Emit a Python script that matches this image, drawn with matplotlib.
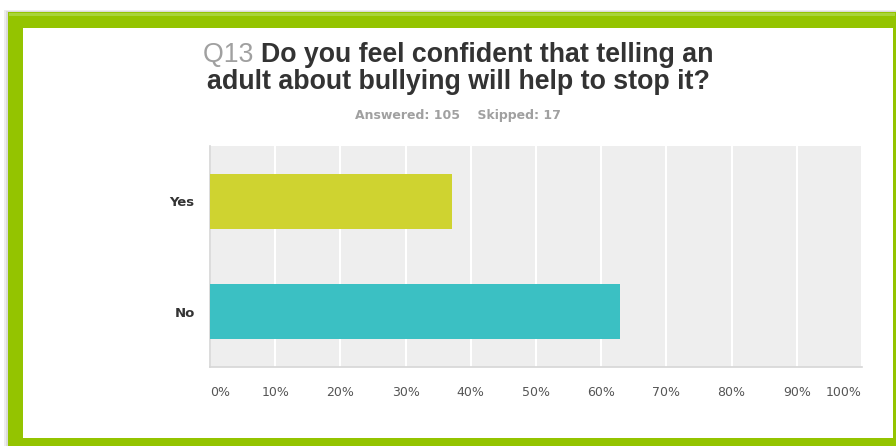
import matplotlib
matplotlib.use("Agg")
import matplotlib.pyplot as plt
from matplotlib.patches import Rectangle

plt.rcParams['font.family'] = ['Liberation Sans', 'DejaVu Sans']

categories = ["Yes", "No"]
percentages = [37.14, 62.86]
bar_colors = ["#CFD330", "#3BC0C3"]
tick_values = [0, 10, 20, 30, 40, 50, 60, 70, 80, 90, 100]
tick_labels = ["0%", "10%", "20%", "30%", "40%", "50%", "60%", "70%", "80%", "90%", "100%"]
question_number = "Q13"
question_lines = ["Do you feel confident that telling an",
                  "adult about bullying will help to stop it?"]
stats_text = "Answered: 105    Skipped: 17"

W, H = 896, 446
fig = plt.figure(figsize=(W / 100, H / 100), dpi=100)
fig.patch.set_facecolor("white")


def px(x, y, w, h):
    return (x / W, 1 - (y + h) / H, w / W, h / H)


def rect(x, y, w, h, color, z=0, alpha=1.0):
    l, b, ww, hh = px(x, y, w, h)
    fig.patches.append(Rectangle((l, b), ww, hh, transform=fig.transFigure,
                                 facecolor=color, edgecolor="none", zorder=z, alpha=alpha))


# soft shadow and green frame
rect(4, 10, 892, 436, "#CCCCCC", z=0, alpha=0.35)
rect(6, 11, 890, 435, "#BBBBBB", z=0, alpha=0.35)
rect(8, 12, 888, 434, "#94C400", z=1)
rect(9, 13, 886, 3, "#A8D43A", z=1)
rect(23, 28, 870, 410, "white", z=2)

ax = fig.add_axes(px(210, 146, 652, 221))
ax.set_zorder(5)
ax.set_facecolor("#EEEEEE")
y_pos = list(range(len(categories)))
ax.barh(y_pos, percentages, height=0.5, color=bar_colors, zorder=3)
ax.set_xlim(0, 100)
ax.set_ylim(len(categories) - 0.5, -0.5)
ax.set_yticks(y_pos)
ax.set_yticklabels(categories, fontsize=9.5, fontweight="bold", color="#333333",
                   family="DejaVu Sans")
ax.set_xticks(tick_values)
ax.set_xticklabels(tick_labels, fontsize=9, color="#555555", family="DejaVu Sans")
labels = ax.get_xticklabels()
labels[0].set_horizontalalignment("left")
labels[-1].set_horizontalalignment("right")
ax.tick_params(axis="both", length=0)
ax.tick_params(axis="x", pad=14)
ax.tick_params(axis="y", pad=11)
ax.xaxis.grid(True, color="white", linewidth=1.5, zorder=1)
ax.set_axisbelow(True)
for side in ["top", "right"]:
    ax.spines[side].set_visible(False)
for side in ["left", "bottom"]:
    ax.spines[side].set_color("#D6D6D6")
    ax.spines[side].set_linewidth(1.2)

# title with grey question number
fig.canvas.draw()
renderer = fig.canvas.get_renderer()
title_size = 19.3
cx = 458 / W
y1 = 1 - 55 / H
y2 = 1 - 82 / H
t_num = fig.text(0, y1, question_number + " ", fontsize=title_size, color="#A0A0A0",
                 va="center", ha="left", zorder=10)
t_rest = fig.text(0, y1, question_lines[0], fontsize=title_size, color="#333333",
                  fontweight="bold", va="center", ha="left", zorder=10)
w_num = t_num.get_window_extent(renderer).width / W
w_rest = t_rest.get_window_extent(renderer).width / W
start = cx - (w_num + w_rest) / 2
t_num.set_x(start)
t_rest.set_x(start + w_num)
fig.text(cx, y2, question_lines[1], fontsize=title_size, color="#333333",
         fontweight="bold", va="center", ha="center", zorder=10)
fig.text(cx, 1 - 116 / H, stats_text, fontsize=9, color="#A0A0A0",
         fontweight="bold", va="center", ha="center", zorder=10, family="DejaVu Sans")

fig.savefig("out.png", dpi=100)
